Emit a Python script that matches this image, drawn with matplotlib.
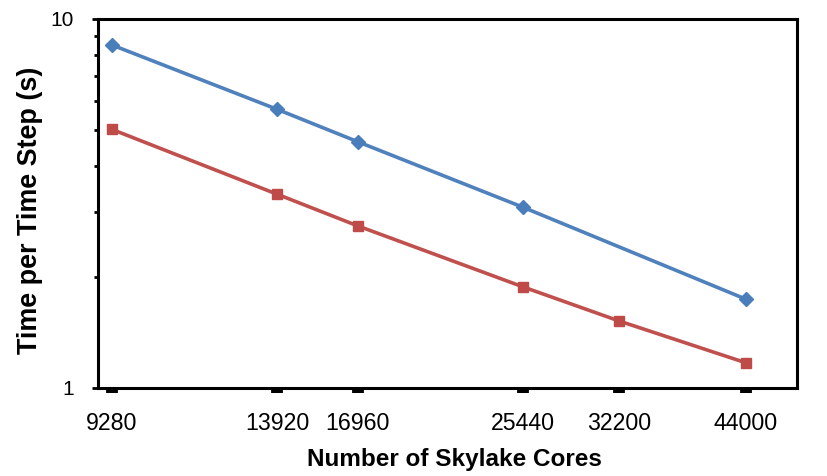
import matplotlib.pyplot as plt
from matplotlib.ticker import FixedLocator, NullFormatter, LogLocator

plt.rcParams['font.family'] = ['Liberation Sans', 'DejaVu Sans']

# core counts and measured time per step
cores = [9280, 13920, 16960, 25440, 32200, 44000]
cores_blue = [9280, 13920, 16960, 25440, 44000]
time_blue = [8.50, 5.69, 4.65, 3.09, 1.74]
time_red = [5.02, 3.35, 2.75, 1.88, 1.52, 1.17]
x_tick_labels = ['9280', '13920', '16960', '25440', '32200', '44000']

fig = plt.figure(figsize=(8.28, 4.76), dpi=100)
ax = fig.add_axes([0.1178, 0.1849, 0.8448, 0.7752])

ax.plot(cores_blue, time_blue, color='#4F81BD', linewidth=2.6,
        marker='D', markersize=7.5, markerfacecolor='#4A7EBB',
        markeredgecolor='#4A7EBB', zorder=3)
ax.plot(cores, time_red, color='#C0504D', linewidth=2.6,
        marker='s', markersize=7, markerfacecolor='#BE4B48',
        markeredgecolor='#BE4B48', zorder=3)

ax.set_xscale('log')
ax.set_yscale('log')
ax.set_xlim(8955, 49870)
ax.set_ylim(1, 10)

ax.xaxis.set_major_locator(FixedLocator(cores))
ax.xaxis.set_minor_locator(FixedLocator([]))
ax.set_xticklabels(x_tick_labels)
ax.xaxis.set_minor_formatter(NullFormatter())

ax.yaxis.set_major_locator(FixedLocator([1, 10]))
ax.set_yticklabels(['1', '10'])
ax.yaxis.set_minor_locator(LogLocator(base=10, subs=range(2, 10)))
ax.yaxis.set_minor_formatter(NullFormatter())

ax.tick_params(axis='x', which='major', direction='out', length=3.5,
               width=8.5, pad=14, labelsize=16.7, color='black')
ax.tick_params(axis='y', which='major', direction='out', length=4,
               width=2, pad=13, labelsize=15)
ax.tick_params(axis='y', which='minor', direction='out', length=3,
               width=2)

for spine in ax.spines.values():
    spine.set_linewidth(2.2)
    spine.set_color('black')

fig.text(0.549, 0.034, 'Number of Skylake Cores', ha='center', va='center',
         fontsize=17.5, fontweight='bold')
fig.text(0.036, 0.559, 'Time per Time Step (s)', ha='center', va='center',
         rotation=90, fontsize=19.4, fontweight='bold')

fig.savefig('out.png', dpi=100)
